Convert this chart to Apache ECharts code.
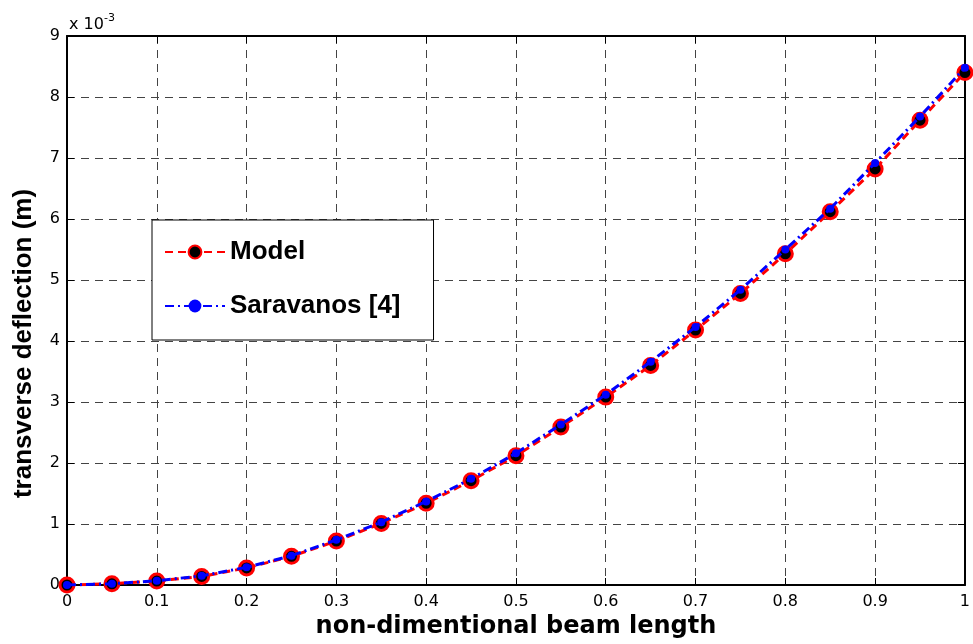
<!DOCTYPE html>
<html>
<head>
<meta charset="utf-8">
<script src="https://cdn.jsdelivr.net/npm/echarts@6/dist/echarts.min.js"></script>
<style>
  html, body { margin: 0; padding: 0; background: #fff; }
  #deflection { width: 973px; height: 644px; }
</style>
</head>
<body>
<div id="deflection"></div>
<script>
// beam position (non-dimensional) and deflection in units of 1e-3 m
var beamX = [0, 0.05, 0.1, 0.15, 0.2, 0.25, 0.3, 0.35, 0.4, 0.45, 0.5,
  0.55, 0.6, 0.65, 0.7, 0.75, 0.8, 0.85, 0.9, 0.95, 1]
var modelVals = [0, 0.02, 0.065, 0.14, 0.28, 0.47, 0.72, 1.01, 1.34, 1.71, 2.12,
  2.59, 3.08, 3.60, 4.18, 4.78, 5.43, 6.12, 6.82, 7.62, 8.40]
var saravanosVals = [0, 0.02, 0.07, 0.15, 0.29, 0.48, 0.74, 1.03, 1.37, 1.74, 2.16,
  2.63, 3.12, 3.66, 4.23, 4.84, 5.50, 6.17, 6.92, 7.68, 8.48]
var seriesNames = ['Model', 'Saravanos [4]']

function pairs (xs, ys) {
  return xs.map(function (x, i) { return [x, ys[i]] })
}

var chart = echarts.init(document.getElementById('deflection'))
var tickFont = { color: '#000', fontFamily: 'DejaVu Sans', fontSize: 16 }
var gridLine = { show: true, lineStyle: { color: '#444', type: [8, 6], width: 1 } }
var frame = { show: true, onZero: false, lineStyle: { color: '#000', width: 2 } }
var inTick = { show: true, inside: true, length: 7, lineStyle: { color: '#000' } }

var options = {
  animation: false,
  backgroundColor: '#fff',
  title: {
    text: 'x 10{s|-3}',
    left: 64,
    top: 8,
    textStyle: {
      color: '#000',
      fontFamily: 'DejaVu Sans',
      fontSize: 16,
      fontWeight: 'normal',
      rich: {
        s: { fontFamily: 'DejaVu Sans', fontSize: 11, color: '#000', padding: [0, 0, 12, 0] }
      }
    }
  },
  grid: {
    left: 67,
    right: 5,
    top: 36,
    bottom: 55,
    containLabel: false
  },
  legend: {
    orient: 'vertical',
    left: 152,
    top: 220,
    data: seriesNames,
    backgroundColor: '#fff',
    borderColor: '#000',
    borderWidth: 1,
    padding: [19, 33, 21, 12],
    itemGap: 28,
    itemWidth: 60,
    itemHeight: 16,
    textStyle: {
      color: '#000',
      fontFamily: 'Liberation Sans',
      fontWeight: 'bold',
      fontSize: 26
    }
  },
  xAxis: [{
    type: 'value',
    min: 0,
    max: 1,
    interval: 0.1,
    name: 'non-dimentional beam length',
    nameLocation: 'middle',
    nameGap: 30,
    nameTextStyle: {
      color: '#000',
      fontFamily: 'DejaVu Sans',
      fontWeight: 'bold',
      fontSize: 24
    },
    axisLine: frame,
    axisTick: inTick,
    axisLabel: Object.assign({ margin: 9, formatter: function (v) { return String(+v.toFixed(2)) } }, tickFont),
    splitLine: gridLine
  }, {
    type: 'value',
    position: 'top',
    min: 0,
    max: 1,
    interval: 0.1,
    axisLine: frame,
    axisTick: inTick,
    axisLabel: { show: false },
    splitLine: { show: false }
  }],
  yAxis: [{
    type: 'value',
    min: 0,
    max: 9,
    interval: 1,
    name: 'transverse deflection (m)',
    nameLocation: 'middle',
    nameRotate: 90,
    nameGap: 30,
    nameTextStyle: {
      color: '#000',
      fontFamily: 'Liberation Sans',
      fontWeight: 'bold',
      fontSize: 26,
      padding: [0, 66, 0, 0]
    },
    axisLine: frame,
    axisTick: inTick,
    axisLabel: Object.assign({ margin: 7 }, tickFont),
    splitLine: gridLine
  }, {
    type: 'value',
    position: 'right',
    min: 0,
    max: 9,
    interval: 1,
    axisLine: frame,
    axisTick: inTick,
    axisLabel: { show: false },
    splitLine: { show: false }
  }],
  series: [{
    name: seriesNames[0],
    type: 'line',
    data: pairs(beamX, modelVals),
    symbol: 'circle',
    symbolSize: 14,
    lineStyle: { color: '#ff0000', width: 3, type: [8, 5] },
    itemStyle: { color: '#000', borderColor: '#ff0000', borderWidth: 3 },
    z: 3
  }, {
    name: seriesNames[1],
    type: 'line',
    data: pairs(beamX, saravanosVals),
    symbol: 'circle',
    symbolSize: 8,
    lineStyle: { color: '#0000ff', width: 3, type: [9, 4, 2, 4] },
    itemStyle: { color: '#0000ff', borderWidth: 0 },
    z: 4
  }]
}
chart.clear()
chart.setOption(options)
window.addEventListener('resize', function () {
  chart.resize()
})
</script>
</body>
</html>
